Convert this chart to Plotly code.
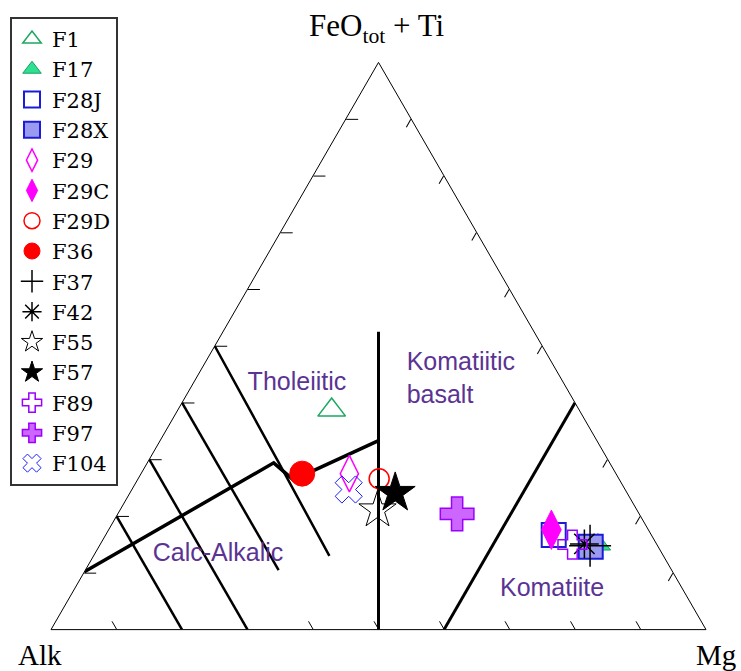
import plotly.graph_objects as go

# sample compositions (fractions): FeOtot+Ti (top), Alk (left), Mg (right)
samples = ["F1", "F17", "F28J", "F28X", "F29", "F29C", "F29D", "F36",
           "F37", "F42", "F55", "F57", "F89", "F97", "F104"]
feo_ti = [0.387, 0.150, 0.167, 0.146, 0.275, 0.176, 0.266, 0.275,
          0.148, 0.151, 0.211, 0.241, 0.150, 0.204, 0.247]
alk = [0.378, 0.090, 0.149, 0.103, 0.407, 0.148, 0.366, 0.479,
       0.103, 0.110, 0.396, 0.354, 0.129, 0.278, 0.422]
mg = [0.235, 0.760, 0.684, 0.751, 0.318, 0.676, 0.368, 0.246,
      0.749, 0.738, 0.393, 0.405, 0.721, 0.518, 0.331]

# marker style per sample: symbol, size, fill colour, line colour, line width
styles = {
    "F1": ("triangle-up-open", 24, "#1aa85f", "#1aa85f", 1.5),
    "F17": ("triangle-up", 22, "#2ee08f", "#18a060", 1),
    "F28J": ("square-open", 24, "#1c1cd6", "#1c1cd6", 2),
    "F28X": ("square", 24, "#9a9af0", "#1c1cd6", 2),
    "F29": ("diamond-tall-open", 26, "#ff00ff", "#ff00ff", 1.5),
    "F29C": ("diamond-tall", 28, "#ff00ff", "#ff00ff", 1),
    "F29D": ("circle-open", 20, "#ff0000", "#ff0000", 1.5),
    "F36": ("circle", 25, "#ff0000", "#ff0000", 1),
    "F37": ("cross-thin-open", 30, "black", "black", 1.5),
    "F42": ("asterisk-open", 24, "black", "black", 1.5),
    "F55": ("star-open", 28, "black", "black", 1),
    "F57": ("star", 30, "black", "black", 1),
    "F89": ("cross-open", 24, "#9a00ff", "#9a00ff", 1.5),
    "F97": ("cross", 28, "#cc66ff", "#9a00ff", 1.5),
    "F104": ("x-open", 24, "#1a1aff", "#1a1aff", 1),
}

# field boundaries (a = FeO+Ti, b = Alk, c = Mg)
boundaries = [
    # komatiitic basalt / tholeiitic divide
    ([0.525, 0.0], [0.2375, 0.5], [0.2375, 0.5], 3),
    # komatiite boundary
    ([0.4, 0.0], [0.0, 0.4], [0.6, 0.6], 3),
    # TH / CA boundary
    ([0.102, 0.294, 0.264, 1 / 3], [0.898, 0.513, 0.498, 1 / 3],
     [0.0, 0.193, 0.238, 1 / 3], 3.5),
    # rhyolite / dacite / andesite / basalt divisions
    ([0.5, 0.3, 0.13], [0.5, 0.505, 0.51], [0.0, 0.195, 0.36], 2.5),
    ([0.4, 0.105], [0.6, 0.6], [0.0, 0.295], 2.5),
    ([0.3, 0.0], [0.7, 0.7], [0.0, 0.3], 2.5),
    ([0.2, 0.0], [0.8, 0.8], [0.0, 0.2], 2.5),
]

field_labels = ["Tholeiitic", "Komatiitic<br>basalt", "Calc-Alkalic", "Komatiite"]
label_a = [0.433, 0.440, 0.132, 0.070]
label_b = [0.408, 0.237, 0.679, 0.200]
label_c = [0.159, 0.323, 0.189, 0.730]
label_pos = ["middle center", "middle right", "middle center", "middle center"]

fig = go.Figure()

for a, b, c, w in boundaries:
    fig.add_trace(go.Scatterternary(
        a=a, b=b, c=c, mode="lines",
        line=dict(color="black", width=w),
        showlegend=False, hoverinfo="skip",
    ))

for i, name in enumerate(samples):
    sym, size, fill, edge, lw = styles[name]
    fig.add_trace(go.Scatterternary(
        a=[feo_ti[i]], b=[alk[i]], c=[mg[i]],
        mode="markers", name=name,
        marker=dict(symbol=sym, size=size, color=fill,
                    line=dict(color=edge, width=lw)),
    ))

for i, txt in enumerate(field_labels):
    fig.add_trace(go.Scatterternary(
        a=[label_a[i]], b=[label_b[i]], c=[label_c[i]],
        mode="text", text=[txt], textposition=label_pos[i],
        textfont=dict(family="Liberation Sans, Arial", size=25, color="#5b3393"),
        showlegend=False, hoverinfo="skip",
    ))

ticks01 = [0.1, 0.2, 0.3, 0.4, 0.5, 0.6, 0.7, 0.8, 0.9]
axis = dict(
    showticklabels=False, ticks="inside", ticklen=12,
    tickvals=ticks01, tickcolor="black", tickwidth=1,
    showgrid=False, showline=True, linecolor="black", linewidth=1,
    min=0, title=dict(text=""),
)
side_axis = dict(axis, ticklen=9)

serif = "Liberation Serif, Times New Roman, serif"
fig.update_layout(
    width=741, height=671,
    margin=dict(l=51, r=35, t=61, b=40, autoexpand=False),
    paper_bgcolor="white",
    ternary=dict(sum=1, bgcolor="white", aaxis=axis, baxis=side_axis, caxis=side_axis),
    legend=dict(
        xref="container", yref="container", x=0.0135, y=0.975,
        xanchor="left", yanchor="top",
        bgcolor="white", bordercolor="#333", borderwidth=2,
        font=dict(family="DejaVu Serif", size=21, color="black"),
        itemsizing="trace", maxheight=620,
    ),
    annotations=[
        dict(text="FeO<sub>tot</sub> + Ti", x=0.4977, y=1.058, xref="paper", yref="paper",
             xanchor="center", yanchor="middle",
             showarrow=False, font=dict(family=serif, size=31, color="black")),
        dict(text="Alk", x=-0.0168, y=-0.042, xref="paper", yref="paper",
             xanchor="center", yanchor="middle",
             showarrow=False, font=dict(family=serif, size=29, color="black")),
        dict(text="Mg", x=1.0153, y=-0.042, xref="paper", yref="paper",
             xanchor="center", yanchor="middle",
             showarrow=False, font=dict(family=serif, size=29, color="black")),
    ],
)

# drop the default page margin so the figure fills the window exactly
fig.write_html("out.html", config={"displayModeBar": False},
               post_script="document.body.style.margin = '0';")
